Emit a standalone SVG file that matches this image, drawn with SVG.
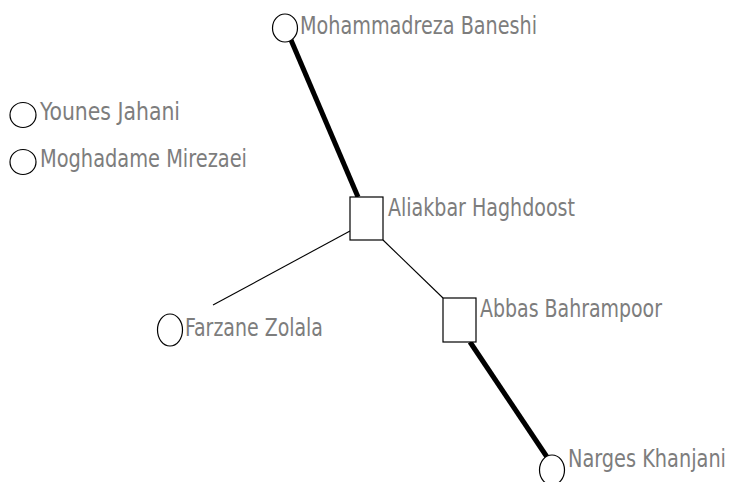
<svg xmlns="http://www.w3.org/2000/svg" width="731" height="482" viewBox="0 0 731 482">
<style>
.bg{fill:#ffffff}
.n{fill:#ffffff;stroke:#000000;stroke-width:1.2}
.t{font-family:"DejaVu Sans Condensed","DejaVu Sans",sans-serif;font-size:25px;fill:#7d7d7d}
.thin{stroke:#000000;stroke-width:1.1;fill:none}
.thick{stroke:#000000;stroke-width:5;fill:none}
</style>
<rect class="bg" x="0" y="0" width="731" height="482"/>
<g id="connectors">
<line class="thick" x1="291" y1="40" x2="358" y2="197"/>
<line class="thin" x1="350" y1="231" x2="213" y2="305"/>
<line class="thin" x1="383" y1="240" x2="443" y2="298"/>
<line class="thick" x1="470" y1="342" x2="549" y2="460"/>
</g>
<g id="mohammadreza">
<ellipse class="n" cx="285" cy="28" rx="12.5" ry="14"/>
<text class="t" x="300" y="34" textLength="237" lengthAdjust="spacingAndGlyphs">Mohammadreza Baneshi</text>
</g>
<g id="younes">
<ellipse class="n" cx="23" cy="115" rx="13" ry="12.5"/>
<text class="t" x="40" y="120" textLength="140" lengthAdjust="spacingAndGlyphs">Younes Jahani</text>
</g>
<g id="moghadame">
<ellipse class="n" cx="23" cy="162" rx="13" ry="12.5"/>
<text class="t" x="40" y="167" textLength="207" lengthAdjust="spacingAndGlyphs">Moghadame Mirezaei</text>
</g>
<g id="aliakbar">
<rect class="n" x="350" y="197" width="33" height="43"/>
<text class="t" x="388" y="216" textLength="187" lengthAdjust="spacingAndGlyphs">Aliakbar Haghdoost</text>
</g>
<g id="farzane">
<ellipse class="n" cx="170" cy="330" rx="12.5" ry="16"/>
<text class="t" x="185" y="336" textLength="138" lengthAdjust="spacingAndGlyphs">Farzane Zolala</text>
</g>
<g id="abbas">
<rect class="n" x="443" y="298" width="33" height="44"/>
<text class="t" x="480" y="317" textLength="182" lengthAdjust="spacingAndGlyphs">Abbas Bahrampoor</text>
</g>
<g id="narges">
<ellipse class="n" cx="552" cy="470" rx="12.5" ry="15"/>
<text class="t" x="568" y="467" textLength="158" lengthAdjust="spacingAndGlyphs">Narges Khanjani</text>
</g>
</svg>
